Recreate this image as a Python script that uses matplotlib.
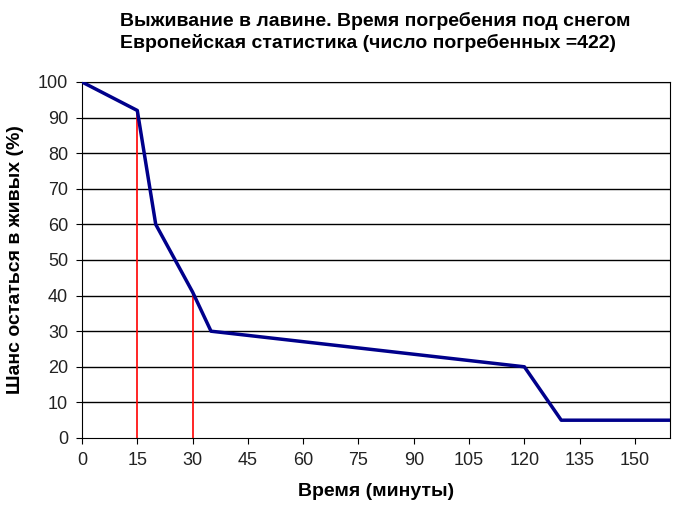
import matplotlib
matplotlib.use('Agg')
import matplotlib.pyplot as plt

plt.rcParams['font.family'] = ['Liberation Sans', 'DejaVu Sans']

# Данные кривой выживания
minutes = [0, 15, 20, 25, 30, 35, 120, 130, 160]
survival = [100, 92, 60, 50.5, 41, 30, 20, 5, 5]
marks_x = [15, 30]
marks_y = [92, 41]
xticks = list(range(0, 151, 15))
yticks = list(range(0, 101, 10))

fig = plt.figure(figsize=(6.86, 5.2), dpi=100)
ax = fig.add_axes([82/686, 82/520, (670-82)/686, (438-82)/520])

for y in yticks[1:]:
    ax.axhline(y, color='black', lw=1, zorder=1)
for x, y in zip(marks_x, marks_y):
    ax.plot([x, x], [0, y], color='red', lw=1.2, zorder=2)
ax.plot(minutes, survival, color='#00008B', lw=2.5, zorder=3)

ax.set_xlim(0, 159.5)
ax.set_ylim(0, 100)
ax.set_xticks(xticks)
ax.set_yticks(yticks)
ax.tick_params(labelsize=13, length=4, pad=6, labelcolor='#222222')
for s in ax.spines.values():
    s.set_color('black')
ax.set_xlabel('Время (минуты)', fontsize=14, fontweight='bold', labelpad=10)
ax.set_ylabel('Шанс остаться в живых (%)', fontsize=14, fontweight='bold', labelpad=10)

fig.text(120/686, 1 - 12/520, 'Выживание в лавине. Время погребения под снегом\nЕвропейская статистика (число погребенных =422)',
         fontsize=14, fontweight='bold', va='top', ha='left', linespacing=1.25)

fig.savefig('out.png', dpi=100)
